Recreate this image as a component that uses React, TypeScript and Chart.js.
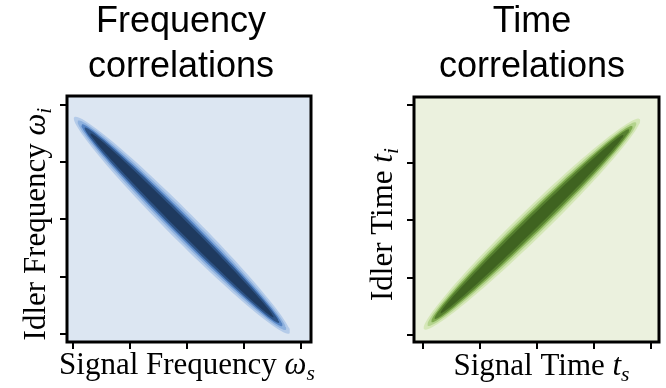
import React, { useEffect, useRef } from "react";
import { Chart, registerables } from "chart.js";

Chart.register(...registerables);

const TICK_VALUES = [0, 1, 2, 3, 4];

// Frequency panel: signal and idler frequencies are anti-correlated
const FREQ_TITLE = ["Frequency", "correlations"];
const FREQ_X_RANGE = [-0.105, 4.175];
const FREQ_Y_RANGE = [-0.14, 4.157];
const FREQ_CENTER = [1.91, 1.9];
const FREQ_ANGLE = -45;
// contour bands, outermost first
const FREQ_HALF_LENGTH = [2.67, 2.58, 2.49, 2.41, 2.27];
const FREQ_HALF_WIDTH = [0.245, 0.205, 0.17, 0.14, 0.1];
const FREQ_COLORS = ["#b4cbe9", "#8eb1de", "#5583c2", "#2e5487", "#1f3a5f"];
const FREQ_BACKGROUND = "#dce6f2";

// Time panel: arrival times are positively correlated
const TIME_TITLE = ["Time", "correlations"];
const TIME_X_RANGE = [-0.158, 4.14];
const TIME_Y_RANGE = [-0.12, 4.14];
const TIME_CENTER = [1.91, 1.93];
const TIME_ANGLE = 44;
const TIME_HALF_LENGTH = [2.63, 2.54, 2.45, 2.37, 2.23];
const TIME_HALF_WIDTH = [0.245, 0.205, 0.17, 0.14, 0.1];
const TIME_COLORS = ["#d5e7b8", "#b3d38c", "#7fab4f", "#56802f", "#3f6320"];
const TIME_BACKGROUND = "#ebf1de";

type Seg = { text: string; italic?: boolean; sub?: boolean };

const FREQ_X_CAPTION: Seg[] = [
  { text: "Signal Frequency " },
  { text: "ω", italic: true },
  { text: "s", italic: true, sub: true },
];
const FREQ_Y_CAPTION: Seg[] = [
  { text: "Idler Frequency " },
  { text: "ω", italic: true },
  { text: "i", italic: true, sub: true },
];
const TIME_X_CAPTION: Seg[] = [
  { text: "Signal Time " },
  { text: "t", italic: true },
  { text: "s", italic: true, sub: true },
];
const TIME_Y_CAPTION: Seg[] = [
  { text: "Idler Time " },
  { text: "t", italic: true },
  { text: "i", italic: true, sub: true },
];

const SERIF = '"Liberation Serif", "Times New Roman", serif';
const CAPTION_SIZE = 31;

// Closed outline of one elliptical contour band, in axis units
function contourOutline(center: number[], angleDeg: number, a: number, b: number) {
  const steps = 120;
  const th = (angleDeg * Math.PI) / 180;
  const c = Math.cos(th);
  const s = Math.sin(th);
  const pts: { x: number; y: number }[] = [];
  for (let k = 0; k <= steps; k++) {
    const t = (k / steps) * 2 * Math.PI;
    const u = a * Math.cos(t);
    const v = b * Math.sin(t);
    pts.push({ x: center[0] + u * c - v * s, y: center[1] + u * s + v * c });
  }
  return pts;
}

function drawRich(ctx: CanvasRenderingContext2D, segs: Seg[], size: number) {
  const parts = segs.map((sg) => {
    const fs = sg.sub ? size * 0.7 : size;
    const font = `${sg.italic ? "italic " : ""}${fs}px ${SERIF}`;
    ctx.font = font;
    const w = ctx.measureText(sg.text).width;
    return { font, w, dy: sg.sub ? size * 0.2 : 0, text: sg.text };
  });
  const total = parts.reduce((acc, p) => acc + p.w, 0);
  let x = -total / 2;
  ctx.textBaseline = "alphabetic";
  ctx.textAlign = "left";
  for (const p of parts) {
    ctx.font = p.font;
    ctx.fillText(p.text, x, p.dy);
    x += p.w;
  }
}

const panelPlugin = {
  id: "panelDecor",
  beforeDraw(chart: any, _args: any, opts: any) {
    const { ctx, chartArea: ca } = chart;
    ctx.save();
    ctx.fillStyle = opts.background;
    ctx.fillRect(ca.left, ca.top, ca.right - ca.left, ca.bottom - ca.top);
    ctx.restore();
  },
  afterDraw(chart: any, _args: any, opts: any) {
    const { ctx, chartArea: ca } = chart;
    ctx.save();
    ctx.strokeStyle = "#000";
    ctx.lineWidth = 3;
    ctx.strokeRect(ca.left, ca.top, ca.right - ca.left, ca.bottom - ca.top);
    ctx.fillStyle = "#000";
    // x caption
    ctx.save();
    ctx.translate((ca.left + ca.right) / 2 + opts.xShift, ca.bottom + opts.xBaseline);
    drawRich(ctx, opts.xCaption, CAPTION_SIZE);
    ctx.restore();
    // y caption, rotated
    ctx.save();
    ctx.translate(ca.left - opts.yBaseline, (ca.top + ca.bottom) / 2 + opts.yShift);
    ctx.rotate(-Math.PI / 2);
    drawRich(ctx, opts.yCaption, CAPTION_SIZE);
    ctx.restore();
    ctx.restore();
  },
};

type PanelProps = {
  title: string[];
  xRange: number[];
  yRange: number[];
  center: number[];
  angle: number;
  halfLength: number[];
  halfWidth: number[];
  colors: string[];
  background: string;
  xCaption: Seg[];
  yCaption: Seg[];
  box: { left: number; width: number };
  pad: { left: number; right: number; bottom: number; titleBottom: number };
  yAxisWidth: number;
  xShift: number;
  yShift: number;
  xBaseline: number;
};

function Panel(p: PanelProps) {
  const ref = useRef<HTMLCanvasElement | null>(null);
  useEffect(() => {
    if (!ref.current) return;
    // innermost band first so it is drawn on top
    const datasets = p.halfLength
      .map((a, i) => ({
        data: contourOutline(p.center, p.angle, a, p.halfWidth[i]),
        showLine: true,
        fill: "shape",
        backgroundColor: p.colors[i],
        borderWidth: 0,
        pointRadius: 0,
        tension: 0,
      }))
      .reverse();
    const axisBase = {
      type: "linear",
      ticks: { display: false },
      border: { display: false },
      grid: {
        display: true,
        drawOnChartArea: false,
        drawTicks: true,
        tickLength: 7,
        lineWidth: 2,
        color: "#000",
      },
      afterBuildTicks: (scale: any) => {
        scale.ticks = TICK_VALUES.map((value) => ({ value }));
      },
    };
    const chart = new Chart(ref.current, {
      type: "scatter",
      data: { datasets } as any,
      options: {
        animation: false,
        responsive: true,
        maintainAspectRatio: false,
        layout: {
          padding: { left: p.pad.left, right: p.pad.right, top: 0, bottom: p.pad.bottom },
        },
        scales: {
          x: { ...axisBase, min: p.xRange[0], max: p.xRange[1] },
          y: {
            ...axisBase,
            min: p.yRange[0],
            max: p.yRange[1],
            afterFit: (scale: any) => {
              scale.width = p.yAxisWidth;
            },
          },
        } as any,
        plugins: {
          legend: { display: false },
          tooltip: { enabled: false },
          title: {
            display: true,
            text: p.title,
            color: "#000",
            fullSize: true,
            font: {
              family: '"Liberation Sans", Arial, sans-serif',
              size: 36,
              weight: "normal",
              lineHeight: 1.25,
            },
            padding: { top: 0, bottom: p.pad.titleBottom },
          },
          panelDecor: {
            background: p.background,
            xCaption: p.xCaption,
            yCaption: p.yCaption,
            xShift: p.xShift,
            yShift: p.yShift,
            xBaseline: p.xBaseline,
            yBaseline: 22,
          },
        } as any,
      },
      plugins: [panelPlugin],
    });
    return () => chart.destroy();
  }, []);
  return (
    <div
      style={{
        position: "absolute",
        left: p.box.left,
        top: 0,
        width: p.box.width,
        height: 388,
      }}
    >
      <canvas ref={ref} />
    </div>
  );
}

export default function App() {
  return (
    <div style={{ position: "absolute", left: 0, top: 0, width: 666, height: 388, background: "#fff" }}>
      <Panel
        title={FREQ_TITLE}
        xRange={FREQ_X_RANGE}
        yRange={FREQ_Y_RANGE}
        center={FREQ_CENTER}
        angle={FREQ_ANGLE}
        halfLength={FREQ_HALF_LENGTH}
        halfWidth={FREQ_HALF_WIDTH}
        colors={FREQ_COLORS}
        background={FREQ_BACKGROUND}
        xCaption={FREQ_X_CAPTION}
        yCaption={FREQ_Y_CAPTION}
        box={{ left: 0, width: 340 }}
        pad={{ left: 51, right: 29, bottom: 39, titleBottom: 6 }}
        yAxisWidth={16}
        xShift={-2}
        yShift={5}
        xBaseline={32}
      />
      <Panel
        title={TIME_TITLE}
        xRange={TIME_X_RANGE}
        yRange={TIME_Y_RANGE}
        center={TIME_CENTER}
        angle={TIME_ANGLE}
        halfLength={TIME_HALF_LENGTH}
        halfWidth={TIME_HALF_WIDTH}
        colors={TIME_COLORS}
        background={TIME_BACKGROUND}
        xCaption={TIME_X_CAPTION}
        yCaption={TIME_Y_CAPTION}
        box={{ left: 340, width: 326 }}
        pad={{ left: 65, right: 7, bottom: 39, titleBottom: 7 }}
        yAxisWidth={9}
        xShift={5}
        yShift={5}
        xBaseline={33}
      />
    </div>
  );
}
